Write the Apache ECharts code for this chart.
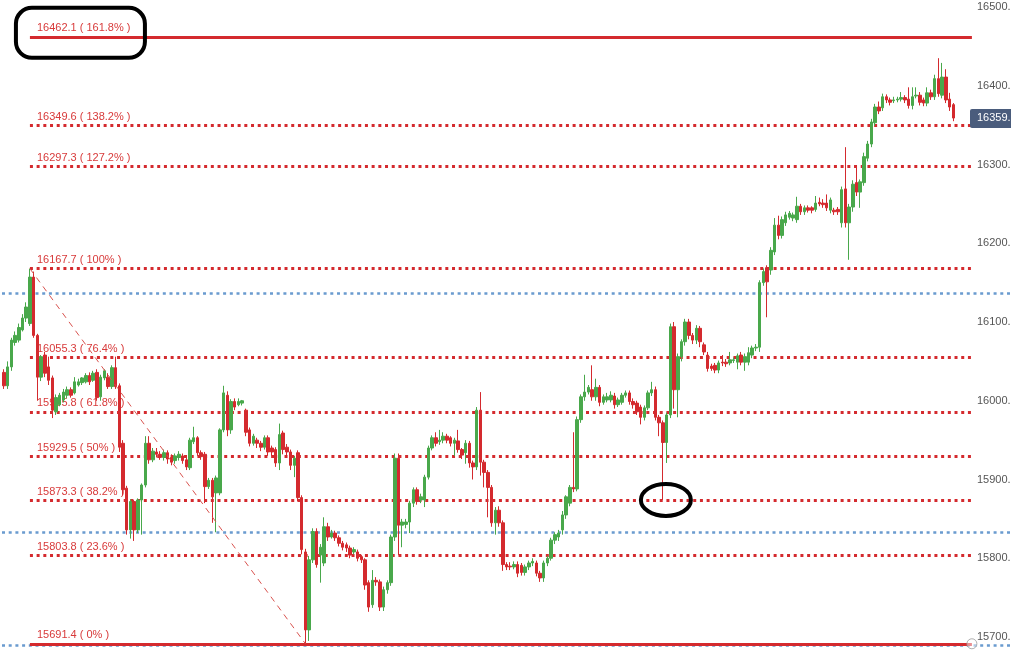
<!DOCTYPE html>
<html><head><meta charset="utf-8">
<script src="https://cdn.jsdelivr.net/npm/echarts@6/dist/echarts.min.js"></script>
<style>html,body{margin:0;padding:0;background:#fff;overflow:hidden}#c{width:1011px;height:665px}</style>
</head><body><div id="c"></div>
<script>
// candles: [open, close, low, high]
const candles = [
[16036,16019,16015,16040],[16019,16043,16015,16050],[16043,16077,16038,16080],[16074,16083,16070,16088],
[16077,16093,16074,16098],[16090,16105,16088,16110],[16105,16119,16100,16125],[16098,16157,16095,16167.7],
[16157,16083,16080,16164],[16083,16030,16000,16085],[16030,16056,16025,16058],[16058,16035,16030,16062],
[16043,16026,16020,16056],[16029,15988,15978,16032],[15986,16004,15982,16008],[15995,16007,15993,16010],
[16001,16011,15998,16015],[16007,16014,16003,16018],[16014,16007,16004,16017],[16010,16024,16008,16030],
[16020,16024,16018,16028],[16023,16029,16020,16030],[16024,16032,16022,16035],[16032,16024,16020,16036],
[16026,16035,16024,16038],[16036,16004,16000,16040],[16005,16030,16000,16033],[16029,16038,16026,16040],
[16030,16018,16015,16035],[16018,16042,16015,16045],[16042,16018,16015,16056],[16019,15941,15935,16022],
[15946,15887,15880,15950],[15889,15836,15830,15892],[15836,15872,15825,15875],[15872,15836,15822,15874],
[15836,15874,15832,15876],[15874,15893,15830,15895],[15893,15946,15890,15955],[15946,15925,15920,15955],
[15925,15936,15922,15940],[15935,15932,15928,15940],[15932,15928,15925,15936],[15928,15934,15924,15938],
[15934,15926,15920,15937],[15928,15922,15918,15932],[15924,15930,15920,15933],[15928,15932,15924,15936],
[15930,15924,15920,15933],[15925,15916,15912,15928],
[15915,15950,15912,15953],[15948,15953,15945,15967],[15953,15934,15930,15955],[15934,15929,15925,15937],
[15932,15891,15870,15935],[15891,15899,15888,15902],[15899,15878,15845,15902],[15883,15902,15833,15905],
[15883,15963,15880,15965],[15963,16010,15960,16019],[16007,15963,15955,16012],[15963,15999,15958,16002],
[15999,15992,15988,16003],[15995,15999,15993,16003],[15997,16000,15994,16001],[15988,15960,15955,15990],
[15963,15946,15942,15966],[15946,15955,15943,15958],[15950,15946,15940,15953],[15946,15941,15936,15949],
[15941,15953,15938,15956],[15953,15935,15930,15956],[15940,15935,15930,15943],[15938,15921,15916,15941],
[15921,15957,15912,15971],[15959,15938,15932,15962],[15941,15935,15930,15945],[15935,15918,15912,15938],
[15918,15927,15903,15930],[15934,15877,15872,15937],[15877,15811,15805,15880],[15808,15709,15691.4,15812],
[15709,15798,15695,15803],[15798,15834,15794,15838],[15834,15792,15788,15838],[15804,15814,15769,15818],
[15794,15840,15790,15852],[15840,15827,15822,15845],[15827,15832,15825,15836],[15832,15826,15822,15835],
[15826,15819,15815,15829],[15819,15814,15810,15822],[15817,15813,15808,15820],[15813,15804,15800,15816],
[15808,15811,15805,15814],[15808,15800,15796,15811],[15802,15798,15794,15804],[15798,15766,15760,15800],
[15769,15738,15732,15772],[15741,15772,15737,15785],[15772,15770,15765,15776],[15770,15738,15733,15773],
[15738,15760,15733,15764],[15760,15769,15755,15772],
[15769,15827,15765,15830],[15827,15927,15822,15933],[15927,15842,15804,15933],[15842,15846,15814,15850],
[15843,15846,15838,15850],[15846,15870,15832,15873],[15870,15887,15865,15890],[15887,15872,15868,15890],
[15874,15878,15870,15882],[15874,15903,15865,15906],[15903,15940,15900,15943],[15940,15953,15937,15956],
[15953,15946,15942,15960],[15948,15950,15944,15963],[15950,15955,15946,15960],[15955,15950,15946,15958],
[15953,15946,15942,15955],[15946,15950,15930,15953],[15949,15938,15934,15963],[15938,15931,15926,15940],
[15934,15946,15920,15950],[15946,15921,15915,15949],[15921,15916,15900,15924],[15916,15988,15912,15992],
[15988,15922,15905,16011],[15922,15909,15890,15925],[15909,15890,15852,15912],[15890,15845,15840,15893],
[15845,15861,15830,15865],[15861,15845,15840,15866],[15845,15792,15784,15848],[15792,15789,15785,15795],
[15790,15789,15785,15795],[15789,15792,15786,15796],[15792,15781,15776,15796],[15791,15782,15778,15794],
[15782,15789,15778,15792],[15789,15794,15785,15797],[15794,15796,15790,15800],[15794,15781,15777,15797],
[15781,15775,15770,15784],[15775,15794,15770,15797],[15794,15800,15790,15803],[15800,15823,15797,15826],
[15823,15830,15818,15833],[15827,15832,15822,15836],
[15836,15855,15830,15860],[15855,15878,15850,15880],
[15870,15890,15866,15893],[15890,15888,15884,15960],[15888,15976,15885,15980],[15976,16005,15972,16008],
[16005,16011,16000,16033],[16011,16017,16008,16020],[16014,16005,16000,16045],[16005,16017,16000,16028],
[16017,15998,15993,16020],[15998,16005,15995,16008],[16001,16005,15998,16010],[16001,16007,15998,16012],
[16006,15995,15990,16010],[15995,16001,15992,16004],[15998,16007,15995,16010],[16007,16010,16004,16013],
[16010,15999,15995,16013],[15999,15995,15990,16003],[15997,15986,15982,16000],[15992,15979,15970,15995],
[15979,15991,15975,15994],[15991,16010,15988,16013],[16010,16014,16006,16024],[16014,15979,15975,16018],
[15979,15972,15955,15982],[15972,15947,15874,15975],[15947,15982,15921,15985],[15982,16094,15978,16098],
[16094,16014,15990,16100],[16014,16056,15979,16060],[16056,16075,16050,16078],[16075,16100,16070,16104],
[16100,16083,16078,16104],[16083,16077,16072,16086],[16077,16092,16072,16096],[16092,16075,16068,16095],
[16071,16062,16058,16074],[16058,16041,16037,16062],[16044,16041,16038,16047],[16045,16039,16035,16048],
[16039,16048,16035,16051],[16049,16048,16044,16058],[16049,16047,16043,16053],[16048,16052,16045,16062],
[16051,16052,16048,16055],[16049,16057,16040,16060],[16058,16049,16045,16062],[16049,16056,16038,16060],
[16049,16061,16045,16068],[16058,16067,16054,16070],[16067,16068,16063,16072],[16068,16150,16062,16153],
[16150,16164,16146,16168],[16169,16151,16106,16172],
[16166,16191,16160,16195],[16189,16223,16185,16232],[16223,16210,16205,16235],[16210,16230,16206,16234],
[16226,16236,16222,16240],[16233,16238,16230,16241],[16232,16236,16228,16239],[16230,16247,16226,16259],
[16247,16240,16236,16250],[16240,16245,16236,16248],[16245,16242,16239,16248],[16245,16242,16238,16247],
[16243,16251,16240,16260],[16252,16250,16247,16258],[16251,16249,16245,16256],[16251,16245,16241,16262],
[16242,16255,16238,16258],[16242,16240,16236,16245],[16243,16240,16236,16246],[16226,16268,16220,16272],
[16269,16226,16220,16322],[16226,16246,16179,16250],[16246,16275,16240,16280],[16277,16265,16260,16296],
[16265,16278,16245,16281],[16277,16310,16273,16315],[16308,16326,16304,16330],[16326,16354,16322,16358],
[16353,16373,16349,16377],[16373,16368,16364,16380],[16372,16386,16368,16390],[16386,16382,16378,16389],
[16382,16379,16375,16385],[16381,16382,16378,16386],[16382,16383,16379,16386],[16383,16385,16380,16392],
[16385,16382,16378,16388],[16383,16375,16371,16398],[16375,16386,16370,16398],[16387,16388,16384,16398],
[16388,16379,16375,16392],[16382,16378,16374,16385],[16378,16391,16374,16398],[16391,16386,16382,16395],
[16386,16409,16382,16414],[16409,16390,16386,16435],[16388,16411,16384,16429],[16411,16382,16378,16421],
[16383,16373,16368,16391],[16376,16359,16355,16378]
];
const slotCount = 271;               // candle slots incl. empty space on the right
const fibLevels = [16462.1, 16349.6, 16297.3, 16167.7, 16055.3, 15985.8, 15929.5, 15873.3, 15803.8, 15691.4];
const fibPercents = ['161.8%', '138.2%', '127.2%', '100%', '76.4%', '61.8%', '50%', '38.2%', '23.6%', '0%'];
const fibSolid = [true, false, false, false, false, false, false, false, false, true];
const blueLevels = [16137, 15833, 15690];
const yMin = 15600, yMax = 16600, yStep = 100;
const lastPrice = 16359;
const circledIdx = 177;
const fibEndIdx = 260;

const categories = Array.from({length: slotCount}, (_, i) => String(i));
let lowIdx = 0;
candles.forEach((c, i) => { if (c[2] < candles[lowIdx][2]) lowIdx = i; });
let highIdx = 0;
for (let i = 0; i < lowIdx; i++) if (candles[i][3] > candles[highIdx][3]) highIdx = i;

const RED = '#d42a2e', GREEN = '#49a84b', FONT = '"Liberation Sans", Arial, sans-serif';

const fibLines = fibLevels.map((v, i) => [
  { coord: [highIdx, v],
    lineStyle: { color: RED, width: 3, type: fibSolid[i] ? 'solid' : [3, 3.7] },
    label: { show: true, position: 'insideStartTop', distance: [7, 3],
      formatter: v.toFixed(1) + ' ( ' + fibPercents[i] + ' )',
      color: '#d83a3a', fontSize: 11, fontFamily: FONT } },
  { coord: [fibEndIdx, v] }
]);
const blueLines = blueLevels.map(v => ({ yAxis: v,
  lineStyle: { color: '#6a9bcf', width: 2.5, type: [3, 3.7] }, label: { show: false } }));

const chart = echarts.init(document.getElementById('c'), null, { renderer: 'canvas' });
const option = {
  animation: false,
  backgroundColor: '#fff',
  grid: { left: 2, right: 0, top: -71.75, bottom: -50.75, containLabel: false, outerBoundsMode: 'none' },
  xAxis: { type: 'category', data: categories, boundaryGap: true,
    axisLine: { show: false }, axisTick: { show: false }, axisLabel: { show: false }, splitLine: { show: false } },
  yAxis: { type: 'value', position: 'right', offset: -36, min: yMin, max: yMax, interval: yStep,
    axisLine: { show: false }, axisTick: { show: false }, splitLine: { show: false },
    axisLabel: { margin: 2, color: '#555', fontSize: 11, fontFamily: FONT, formatter: v => v.toFixed(1) } },
  series: [
    { type: 'line', data: [], z: 1, silent: true,
      markLine: { z: 1, silent: true, symbol: ['none', 'none'], animation: false, data: blueLines } },
    { type: 'line', data: [], z: 2, silent: true,
      markLine: { z: 2, silent: true, symbol: ['none', 'none'], animation: false, data: fibLines } },
    { type: 'candlestick', data: candles, z: 10, barWidth: 3,
      itemStyle: { color: GREEN, color0: RED, borderColor: GREEN, borderColor0: RED, borderWidth: 1 } },
    { type: 'line', z: 12, silent: true,
      data: [[highIdx, candles[highIdx][3]], [lowIdx, candles[lowIdx][2]]],
      lineStyle: { color: '#d9534f', width: 1, type: [6, 5] },
      symbol: 'circle', symbolSize: 10, showSymbol: true,
      itemStyle: { color: 'rgba(255,255,255,0.4)', borderColor: '#9b9b9b', borderWidth: 1 } },
    { type: 'scatter', z: 12, silent: true, data: [[fibEndIdx, fibLevels[fibLevels.length - 1]]],
      symbol: 'circle', symbolSize: 10,
      itemStyle: { color: 'rgba(255,255,255,0.6)', borderColor: '#9b9b9b', borderWidth: 1 } }
  ]
};
chart.setOption(option);

const priceY = chart.convertToPixel({ yAxisIndex: 0 }, lastPrice);
const topLabel = chart.convertToPixel({ xAxisIndex: 0, yAxisIndex: 0 }, [highIdx, fibLevels[0]]);
const circled = chart.convertToPixel({ xAxisIndex: 0, yAxisIndex: 0 }, [circledIdx, candles[circledIdx][2]]);
const axisX = chart.getWidth() - 36;
chart.setOption({
  graphic: [
    { type: 'rect', z: 100, shape: { x: axisX - 5, y: priceY - 9, width: 60, height: 19, r: 2 },
      style: { fill: '#4a5c7c' } },
    { type: 'text', z: 101, x: axisX + 2, y: priceY,
      style: { text: lastPrice.toFixed(1), fill: '#fff', font: '11px ' + FONT, verticalAlign: 'middle', align: 'left' } },
    { type: 'rect', z: 100, shape: { x: topLabel[0] - 14, y: topLabel[1] - 29, width: 129, height: 50, r: 16 },
      style: { fill: 'none', stroke: '#000', lineWidth: 4 } },
    { type: 'ellipse', z: 100, shape: { cx: circled[0] + 3, cy: circled[1], rx: 25, ry: 16 },
      style: { fill: 'none', stroke: '#000', lineWidth: 4 } }
  ]
});
</script></body></html>
